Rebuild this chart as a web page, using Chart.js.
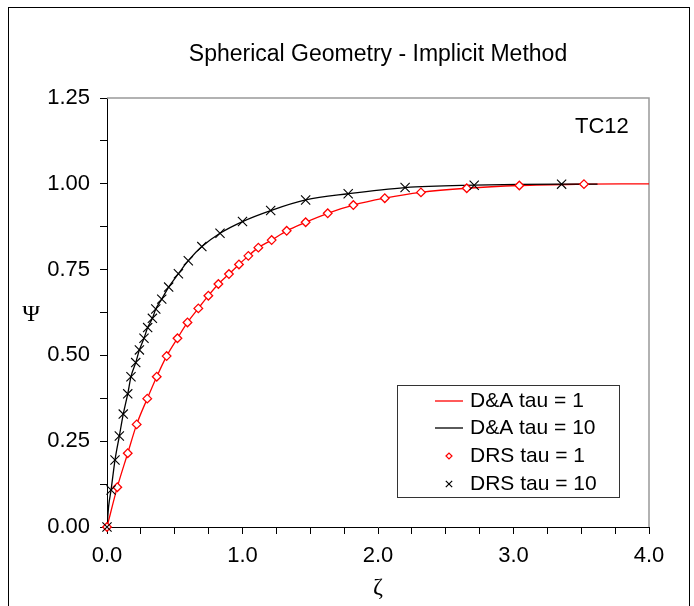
<!DOCTYPE html>
<html>
<head>
<meta charset="utf-8">
<script src="https://cdn.jsdelivr.net/npm/chart.js@4.4.1/dist/chart.umd.min.js"></script>
<style>
  body { margin: 0; background: #fff; }
  canvas { display: block; }
</style>
</head>
<body>
<canvas id="chart" width="694" height="606"></canvas>
<script>
// D&A analytic curves
const daZeta1 = [0, 0.076, 0.153, 0.219, 0.297, 0.367, 0.44, 0.52, 0.594, 0.674, 0.748, 0.822, 0.90, 0.974, 1.043, 1.117, 1.215, 1.326, 1.466, 1.629, 1.818, 2.05, 2.317, 2.655, 3.043, 3.52, 3.8, 4.0];
const daPsi1 = [0, 0.116, 0.215, 0.299, 0.374, 0.438, 0.498, 0.55, 0.596, 0.637, 0.674, 0.708, 0.737, 0.765, 0.79, 0.814, 0.836, 0.863, 0.888, 0.914, 0.938, 0.958, 0.975, 0.987, 0.995, 0.999, 1.0, 1.0];
const daZeta10 = [0, 0.012, 0.03, 0.059, 0.091, 0.12, 0.153, 0.177, 0.212, 0.239, 0.273, 0.30, 0.335, 0.36, 0.404, 0.455, 0.527, 0.60, 0.70, 0.834, 1.0, 1.208, 1.466, 1.78, 2.2, 2.71, 3.355, 3.62];
const daPsi10 = [0, 0.06, 0.108, 0.195, 0.265, 0.329, 0.388, 0.438, 0.479, 0.516, 0.55, 0.581, 0.608, 0.635, 0.664, 0.699, 0.738, 0.776, 0.817, 0.856, 0.89, 0.922, 0.953, 0.971, 0.989, 0.996, 0.999, 0.999];

// DRS numerical points
const drsZeta1 = [0, 0.076, 0.153, 0.219, 0.297, 0.367, 0.44, 0.52, 0.594, 0.674, 0.748, 0.822, 0.90, 0.974, 1.043, 1.117, 1.215, 1.326, 1.466, 1.629, 1.818, 2.05, 2.317, 2.655, 3.043, 3.52];
const drsPsi1 = [0, 0.116, 0.215, 0.299, 0.374, 0.438, 0.498, 0.55, 0.596, 0.637, 0.674, 0.708, 0.737, 0.765, 0.79, 0.814, 0.836, 0.863, 0.888, 0.914, 0.938, 0.958, 0.975, 0.987, 0.995, 0.999];
const drsZeta10 = [0, 0.03, 0.059, 0.091, 0.12, 0.153, 0.177, 0.212, 0.239, 0.273, 0.30, 0.335, 0.36, 0.404, 0.455, 0.527, 0.60, 0.70, 0.834, 1.0, 1.208, 1.466, 1.78, 2.2, 2.71, 3.355];
const drsPsi10 = [0, 0.108, 0.195, 0.265, 0.329, 0.388, 0.438, 0.479, 0.516, 0.55, 0.581, 0.608, 0.635, 0.664, 0.699, 0.738, 0.776, 0.817, 0.856, 0.89, 0.922, 0.953, 0.971, 0.989, 0.996, 0.999];

const seriesNames = ['D&A tau = 1', 'D&A tau = 10', 'DRS tau = 1', 'DRS tau = 10'];
const titleText = 'Spherical Geometry - Implicit Method';
const caseLabel = 'TC12';

function pts(xs, ys) {
    return xs.map((x, i) => ({ x: x, y: ys[i] }));
}

const datasets = [
    {
        label: seriesNames[0],
        data: pts(daZeta1, daPsi1),
        borderColor: '#ff0000',
        borderWidth: 1.3,
        pointRadius: 0,
        showLine: true,
        cubicInterpolationMode: 'monotone',
        order: 4
    },
    {
        label: seriesNames[1],
        data: pts(daZeta10, daPsi10),
        borderColor: '#000000',
        borderWidth: 1.3,
        pointRadius: 0,
        showLine: true,
        cubicInterpolationMode: 'monotone',
        order: 3
    },
    {
        label: seriesNames[2],
        data: pts(drsZeta1, drsPsi1),
        borderColor: '#ff0000',
        backgroundColor: '#ffffff',
        pointStyle: 'rectRot',
        pointRadius: 4.3,
        pointBorderWidth: 1.3,
        showLine: false,
        clip: false,
        order: 2
    },
    {
        label: seriesNames[3],
        data: pts(drsZeta10, drsPsi10),
        borderColor: '#000000',
        pointStyle: 'crossRot',
        pointRadius: 6.5,
        pointBorderWidth: 1.1,
        showLine: false,
        clip: false,
        order: 1
    }
];

// frame, title, plot border, upright Psi, case label and the boxed legend
const decor = {
    id: 'decor',
    beforeDraw(chart) {
        const ctx = chart.ctx;
        ctx.save();
        ctx.fillStyle = '#fff';
        ctx.fillRect(0, 0, chart.width, chart.height);
        ctx.strokeStyle = '#000';
        ctx.lineWidth = 1;
        ctx.strokeRect(8.5, 7.5, 681, 610);
        ctx.restore();
    },
    beforeDatasetsDraw(chart) {
        const ctx = chart.ctx;
        const a = chart.chartArea;
        ctx.save();
        ctx.strokeStyle = '#999';
        ctx.lineWidth = 1.5;
        ctx.beginPath();
        ctx.moveTo(a.left, a.top);
        ctx.lineTo(a.right, a.top);
        ctx.lineTo(a.right, a.bottom);
        ctx.stroke();
        ctx.restore();
    },
    afterDraw(chart) {
        const ctx = chart.ctx;
        const a = chart.chartArea;
        ctx.save();
        ctx.fillStyle = '#000';
        ctx.textBaseline = 'middle';

        ctx.font = '23px "Liberation Sans"';
        ctx.textAlign = 'center';
        ctx.fillText(titleText, 378, 55);

        ctx.font = '24px "Liberation Serif"';
        ctx.fillText('\u03A8', 31, (a.top + a.bottom) / 2 + 2);

        ctx.font = '22px "Liberation Sans"';
        ctx.textAlign = 'left';
        ctx.fillText(caseLabel, 575, 127);

        // legend box
        ctx.strokeStyle = '#333';
        ctx.lineWidth = 1;
        ctx.strokeRect(397.5, 385.5, 222, 112);
        const rows = [401, 428, 456, 484];
        ctx.font = '21px "Liberation Sans"';
        rows.forEach((y, i) => {
            const ds = chart.data.datasets[i];
            ctx.strokeStyle = ds.borderColor;
            if (ds.showLine) {
                ctx.lineWidth = 1.3;
                ctx.beginPath();
                ctx.moveTo(435, y);
                ctx.lineTo(463, y);
                ctx.stroke();
            } else {
                ctx.fillStyle = '#fff';
                ctx.lineWidth = 1.2;
                Chart.helpers.drawPoint(ctx, {
                    pointStyle: ds.pointStyle,
                    radius: ds.pointStyle === 'rectRot' ? 3 : 4.5,
                    borderWidth: 1.2,
                    rotation: 0
                }, 449, y);
            }
            ctx.fillStyle = '#000';
            ctx.fillText(ds.label, 470, y);
        });
        ctx.restore();
    }
};

new Chart(document.getElementById('chart'), {
    type: 'scatter',
    data: { datasets: datasets },
    options: {
        responsive: false,
        devicePixelRatio: 1,
        animation: false,
        layout: { padding: { left: 0, right: 45, top: 98, bottom: 0 } },
        plugins: {
            legend: { display: false },
            tooltip: { enabled: false },
            title: { display: false }
        },
        scales: {
            x: {
                type: 'linear',
                min: 0,
                max: 4,
                grid: { drawOnChartArea: false, tickLength: 7, color: '#000' },
                border: { color: '#000', width: 1 },
                ticks: {
                    stepSize: 0.25,
                    autoSkip: false,
                    maxRotation: 0,
                    padding: 9,
                    color: '#000',
                    font: { family: 'Liberation Sans', size: 22 },
                    callback: v => (Math.abs(v - Math.round(v)) < 1e-9 ? v.toFixed(1) : '')
                },
                title: {
                    display: true,
                    text: '\u03B6',
                    color: '#000',
                    font: { family: 'Liberation Serif', size: 24 },
                    padding: { top: 0, bottom: 4 }
                },
                afterFit: s => { s.height = 79; }
            },
            y: {
                type: 'linear',
                min: 0,
                max: 1.25,
                grid: { drawOnChartArea: false, tickLength: 7, color: '#000' },
                border: { color: '#000', width: 1 },
                ticks: {
                    stepSize: 0.125,
                    autoSkip: false,
                    padding: 10,
                    color: '#000',
                    font: { family: 'Liberation Sans', size: 22 },
                    callback: v => (Math.abs(v * 4 - Math.round(v * 4)) < 1e-9 ? v.toFixed(2) : '')
                },
                afterFit: s => { s.width = 107; }
            }
        }
    },
    plugins: [decor]
});
</script>
</body>
</html>
